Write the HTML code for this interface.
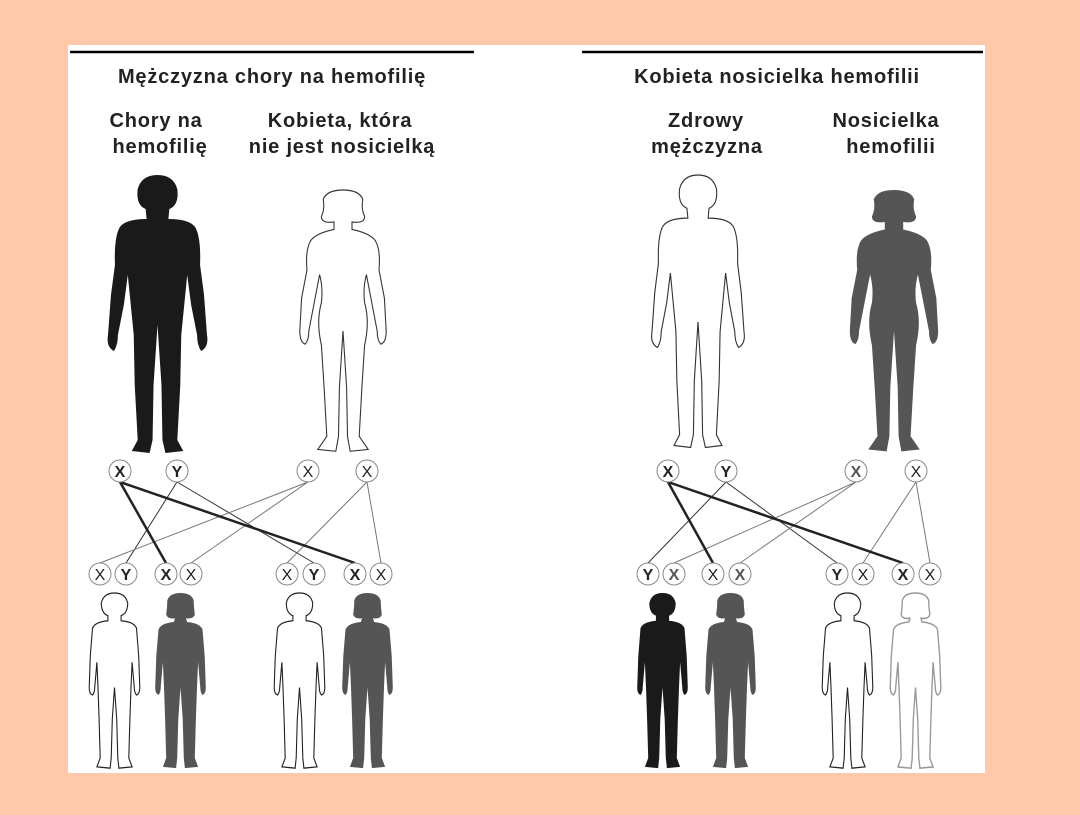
<!DOCTYPE html>
<html><head><meta charset="utf-8"><style>
body{margin:0;width:1080px;height:810px;background:#FFC8A8;overflow:hidden;font-family:"Liberation Sans",sans-serif}
</style></head><body>
<svg width="1080" height="810" viewBox="0 0 1080 810" xmlns="http://www.w3.org/2000/svg">
<defs>
<g id="m">
<path d="M38,34 Q28,30 30,14 Q34,0 50,0 Q66,0 70,14 Q72,30 62,34 L61,44 Q82,44 88,52 Q94,62 93,90 L97,120 L100,160 Q102,172 94,176 Q90,170 90,160 L84,130 L80,100 L76,140 L74,160 L73,210 L70,265 L76,276 L58,278 L55,265 L54,210 L50,150 L46,210 L45,265 L42,278 L24,276 L30,265 L27,210 L26,160 L24,140 L20,100 L16,130 L10,160 Q10,170 6,176 Q-2,172 0,160 L3,120 L7,90 Q6,62 12,52 Q18,44 39,44 Z"/>
</g>
<g id="f">
<path d="M40,34 Q26,36 26,28 Q30,20 28,10 Q32,0 50,0 Q68,0 72,10 Q70,20 74,28 Q74,36 60,34 L60,42 Q80,46 86,54 Q92,64 90,85 L96,115 L98,150 Q98,162 92,164 Q88,160 88,150 L82,120 L76,90 Q72,104 74,120 Q80,140 74,165 L71,210 L68,262 L78,276 L58,278 L55,262 L54,210 L50,150 L46,210 L45,262 L42,278 L22,276 L32,262 L29,210 L26,165 Q20,140 26,120 Q28,104 24,90 L18,120 L12,150 Q12,160 8,164 Q2,162 2,150 L4,115 L10,85 Q8,64 14,54 Q20,46 40,42 Z"/>
</g>
<g id="cb">
<path d="M38,36 Q26,32 26,16 Q30,0 50,0 Q70,0 74,16 Q74,32 62,36 L62,44 Q86,46 90,56 L94,100 L96,150 Q96,160 90,162 Q86,158 86,150 L82,110 L80,150 L78,200 L76,262 L82,276 L58,278 L56,262 L54,200 L50,150 L46,200 L44,262 L42,278 L18,276 L24,262 L22,200 L20,150 L18,110 L14,150 Q14,158 10,162 Q4,160 4,150 L6,100 L10,56 Q14,46 38,44 Z"/>
</g>
<g id="cg">
<path d="M40,40 Q26,42 24,34 Q26,22 26,12 Q30,0 50,0 Q70,0 74,12 Q74,22 76,34 Q74,42 60,40 L62,46 Q86,48 90,58 L94,100 L96,150 Q96,160 90,162 Q86,158 86,150 L82,110 L80,150 L78,200 L76,262 L82,276 L58,278 L56,262 L54,200 L50,150 L46,200 L44,262 L42,278 L18,276 L24,262 L22,200 L20,150 L18,110 L14,150 Q14,158 10,162 Q4,160 4,150 L6,100 L10,58 Q14,48 38,46 Z"/>
</g>
</defs>
<rect x="68" y="45" width="917" height="728" fill="#fff"/>
<line x1="70" y1="52" x2="474" y2="52" stroke="#000" stroke-width="2.5"/>
<line x1="582" y1="52" x2="983" y2="52" stroke="#000" stroke-width="2.5"/>
<g font-size="20" font-weight="bold" fill="#222" text-anchor="middle" letter-spacing="0.8">
<text x="272" y="83">Mężczyzna chory na hemofilię</text>
<text x="156" y="127">Chory na</text><text x="160" y="153">hemofilię</text>
<text x="340" y="127">Kobieta, która</text><text x="342" y="153">nie jest nosicielką</text>
<text x="777" y="83">Kobieta nosicielka hemofilii</text>
<text x="706" y="127">Zdrowy</text><text x="707" y="153">mężczyzna</text>
<text x="886" y="127">Nosicielka</text><text x="891" y="153">hemofilii</text>
</g>
<use href="#m" transform="translate(108,175) scale(0.99,1)" fill="#1a1a1a"/>
<use href="#f" transform="translate(298,190) scale(0.9,0.94)" fill="#fff" stroke="#333" stroke-width="1.2"/>
<use href="#m" transform="translate(652,175) scale(0.92,0.98)" fill="#fff" stroke="#333" stroke-width="1.2"/>
<use href="#f" transform="translate(848,190) scale(0.92,0.94)" fill="#555"/>
<use href="#cb" transform="translate(87,593) scale(0.55,0.63)" fill="#fff" stroke="#222" stroke-width="2"/>
<use href="#cg" transform="translate(153,593) scale(0.55,0.63)" fill="#555"/>
<use href="#cb" transform="translate(272,593) scale(0.55,0.63)" fill="#fff" stroke="#222" stroke-width="2"/>
<use href="#cg" transform="translate(340,593) scale(0.55,0.63)" fill="#555"/>
<use href="#cb" transform="translate(635,593) scale(0.55,0.63)" fill="#1a1a1a"/>
<use href="#cg" transform="translate(703,593) scale(0.55,0.63)" fill="#555"/>
<use href="#cb" transform="translate(820,593) scale(0.55,0.63)" fill="#fff" stroke="#222" stroke-width="2"/>
<use href="#cg" transform="translate(888,593) scale(0.55,0.63)" fill="#fff" stroke="#999" stroke-width="2.5"/>
<g stroke="#333" stroke-width="1" fill="none">
<line x1="177" y1="482" x2="126" y2="563"/><line x1="177" y1="482" x2="314" y2="563"/>
<line x1="308" y1="482" x2="100" y2="563" stroke="#777"/><line x1="308" y1="482" x2="191" y2="563" stroke="#777"/>
<line x1="367" y1="482" x2="287" y2="563" stroke="#777"/><line x1="367" y1="482" x2="381" y2="563" stroke="#777"/>
<line x1="726" y1="482" x2="648" y2="563"/><line x1="726" y1="482" x2="837" y2="563"/>
<line x1="856" y1="482" x2="674" y2="563" stroke="#777"/><line x1="856" y1="482" x2="740" y2="563" stroke="#777"/>
<line x1="916" y1="482" x2="863" y2="563" stroke="#777"/><line x1="916" y1="482" x2="930" y2="563" stroke="#777"/>
</g>
<g stroke="#222" stroke-width="2.5">
<line x1="120" y1="482" x2="166" y2="563"/><line x1="120" y1="482" x2="355" y2="563"/>
<line x1="668" y1="482" x2="713" y2="563"/><line x1="668" y1="482" x2="903" y2="563"/>
</g>
<g fill="#fff" stroke="#888" stroke-width="1">
<circle cx="120" cy="471" r="11"/><circle cx="177" cy="471" r="11"/><circle cx="308" cy="471" r="11"/><circle cx="367" cy="471" r="11"/>
<circle cx="668" cy="471" r="11"/><circle cx="726" cy="471" r="11"/><circle cx="856" cy="471" r="11"/><circle cx="916" cy="471" r="11"/>
<circle cx="100" cy="574" r="11"/><circle cx="126" cy="574" r="11"/><circle cx="166" cy="574" r="11"/><circle cx="191" cy="574" r="11"/>
<circle cx="287" cy="574" r="11"/><circle cx="314" cy="574" r="11"/><circle cx="355" cy="574" r="11"/><circle cx="381" cy="574" r="11"/>
<circle cx="648" cy="574" r="11"/><circle cx="674" cy="574" r="11"/><circle cx="713" cy="574" r="11"/><circle cx="740" cy="574" r="11"/>
<circle cx="837" cy="574" r="11"/><circle cx="863" cy="574" r="11"/><circle cx="903" cy="574" r="11"/><circle cx="930" cy="574" r="11"/>
</g>
<g font-size="16" text-anchor="middle" fill="#222">
<text x="120" y="477" font-weight="bold">X</text><text x="177" y="477" font-weight="bold">Y</text><text x="308" y="477">X</text><text x="367" y="477">X</text>
<text x="668" y="477" font-weight="bold">X</text><text x="726" y="477" font-weight="bold">Y</text><text x="856" y="477" font-weight="bold" fill="#555">X</text><text x="916" y="477">X</text>
<text x="100" y="580">X</text><text x="126" y="580" font-weight="bold">Y</text><text x="166" y="580" font-weight="bold">X</text><text x="191" y="580">X</text>
<text x="287" y="580">X</text><text x="314" y="580" font-weight="bold">Y</text><text x="355" y="580" font-weight="bold">X</text><text x="381" y="580">X</text>
<text x="648" y="580" font-weight="bold">Y</text><text x="674" y="580" font-weight="bold" fill="#555">X</text><text x="713" y="580">X</text><text x="740" y="580" font-weight="bold" fill="#555">X</text>
<text x="837" y="580" font-weight="bold">Y</text><text x="863" y="580">X</text><text x="903" y="580" font-weight="bold">X</text><text x="930" y="580">X</text>
</g>
</svg>
</body></html>
